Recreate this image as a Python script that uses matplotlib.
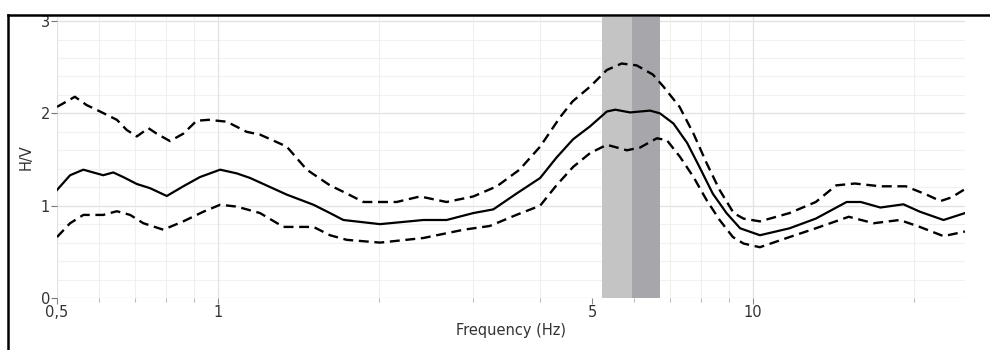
import matplotlib
matplotlib.use("Agg")
import matplotlib.pyplot as plt
from matplotlib.lines import Line2D
from matplotlib.ticker import FixedLocator, NullFormatter

# --- data ---
freq_mean = [0.5, 0.529, 0.560, 0.610, 0.637, 0.665, 0.705, 0.746, 0.802, 0.861, 0.925,
             1.009, 1.084, 1.148, 1.344, 1.508, 1.619, 1.715, 2.008, 2.42, 2.674, 3.0,
             3.27, 3.61, 4.0, 4.29, 4.61, 4.96, 5.33, 5.53, 5.89, 6.42, 6.70, 7.10,
             7.53, 7.94, 8.41, 8.92, 9.46, 10.3, 11.7, 13.1, 14.96, 15.9, 17.3, 19.1,
             20.5, 22.7, 24.9]
hv_mean = [1.17, 1.33, 1.39, 1.33, 1.36, 1.31, 1.235, 1.19, 1.105, 1.21, 1.31,
           1.39, 1.35, 1.30, 1.12, 1.01, 0.92, 0.845, 0.80, 0.845, 0.845, 0.92,
           0.96, 1.13, 1.30, 1.52, 1.72, 1.86, 2.02, 2.04, 2.01, 2.03, 2.00, 1.89,
           1.68, 1.42, 1.13, 0.92, 0.755, 0.68, 0.755, 0.86, 1.04, 1.04, 0.98, 1.015,
           0.935, 0.845, 0.92]

freq_upper = [0.5, 0.540, 0.568, 0.602, 0.647, 0.675, 0.705, 0.741, 0.768, 0.813, 0.861,
              0.912, 0.96, 1.038, 1.131, 1.198, 1.344, 1.465, 1.619, 1.715, 1.87, 2.157,
              2.385, 2.674, 3.0, 3.32, 3.66, 4.0, 4.36, 4.6, 4.96, 5.33, 5.68, 6.06,
              6.5, 6.80, 7.29, 7.74, 8.19, 8.66, 9.2, 9.6, 10.3, 11.7, 13.1, 14.3,
              15.5, 17.3, 19.3, 21.1, 22.4, 23.5, 24.9]
hv_upper = [2.07, 2.18, 2.09, 2.02, 1.93, 1.82, 1.75, 1.84, 1.78, 1.70, 1.78,
            1.92, 1.93, 1.91, 1.80, 1.77, 1.64, 1.39, 1.22, 1.15, 1.04, 1.04,
            1.10, 1.04, 1.10, 1.21, 1.39, 1.64, 1.96, 2.13, 2.29, 2.47, 2.54, 2.52,
            2.42, 2.29, 2.07, 1.78, 1.46, 1.17, 0.92, 0.86, 0.83, 0.92, 1.04, 1.22,
            1.24, 1.21, 1.21, 1.12, 1.05, 1.09, 1.18]

freq_lower = [0.5, 0.529, 0.560, 0.610, 0.647, 0.685, 0.725, 0.790, 0.861, 0.939, 1.009,
              1.084, 1.148, 1.198, 1.325, 1.508, 1.619, 1.74, 2.008, 2.42, 2.88, 3.22,
              3.61, 4.0, 4.29, 4.61, 4.96, 5.33, 5.81, 6.15, 6.61, 6.90, 7.30, 7.74,
              8.19, 8.66, 9.17, 9.6, 10.3, 11.7, 13.1, 15.1, 16.8, 18.8, 20.5, 22.7,
              24.9]
hv_lower = [0.66, 0.81, 0.90, 0.90, 0.94, 0.90, 0.81, 0.74, 0.83, 0.935, 1.01,
            0.99, 0.95, 0.92, 0.77, 0.77, 0.68, 0.63, 0.60, 0.65, 0.74, 0.78,
            0.90, 1.00, 1.22, 1.42, 1.57, 1.66, 1.60, 1.63, 1.73, 1.71, 1.53, 1.31,
            1.06, 0.845, 0.66, 0.59, 0.55, 0.66, 0.755, 0.88, 0.81, 0.845, 0.77, 0.67,
            0.72]

band_light = (5.21, 5.94)
band_dark = (5.94, 6.70)

x_major = [0.5, 1, 5, 10]
x_major_labels = ["0,5", "1", "5", "10"]
x_minor = [0.6, 0.7, 0.8, 0.9, 2, 3, 4, 6, 7, 8, 9, 20]
y_major = [0, 1, 2, 3]
y_major_labels = ["0", "1", "2", "3"]

# --- figure ---
fig = plt.figure(figsize=(9.9, 3.5), dpi=100)
ax = fig.add_axes([57 / 990, 1 - 298 / 350, (965 - 57) / 990, (298 - 17) / 350])
ax.set_xscale("log")
ax.set_xlim(0.5, 24.9)
ax.set_ylim(0, 3.044)

# grid
for y in [0.2 * i for i in range(1, 16)]:
    ax.axhline(y, color="#f1f1f1", lw=0.8, zorder=0)
for y in [1, 2, 3]:
    ax.axhline(y, color="#e2e2e2", lw=0.9, zorder=0)
for x in x_minor:
    ax.axvline(x, color="#efefef", lw=0.8, zorder=0)
for x in [0.5, 1, 10]:
    ax.axvline(x, color="#e2e2e2", lw=0.9, zorder=0)
ax.axhline(0, color="#dddddd", lw=0.9, zorder=0)

# bands
ax.axvspan(*band_light, color="#c4c4c4", lw=0, zorder=1)
ax.axvspan(*band_dark, color="#a7a7ab", lw=0, zorder=1)

# curves
ax.plot(freq_upper, hv_upper, color="black", lw=1.7, ls=(0, (4.2, 2.4)), zorder=3)
ax.plot(freq_mean, hv_mean, color="black", lw=1.6, zorder=3)
ax.plot(freq_lower, hv_lower, color="black", lw=1.7, ls=(0, (4.2, 2.4)), zorder=3)

for s in ax.spines.values():
    s.set_visible(False)

ax.xaxis.set_major_locator(FixedLocator(x_major))
ax.set_xticklabels(x_major_labels)
ax.xaxis.set_minor_locator(FixedLocator(x_minor))
ax.xaxis.set_minor_formatter(NullFormatter())
ax.set_yticks(y_major)
ax.set_yticklabels(y_major_labels)

ax.tick_params(axis="x", which="major", length=4, width=0.8, color="#888888",
               labelsize=10.5, labelcolor="#333333", pad=1)
ax.tick_params(axis="x", which="minor", length=3, width=0.8, color="#bbbbbb")
ax.tick_params(axis="y", which="major", length=4, width=0.8, color="#777777",
               labelsize=10.5, labelcolor="#333333", pad=1)

ax.set_xlabel("Frequency (Hz)", fontsize=10.5, color="#333333", labelpad=2)
ax.set_ylabel("H/V", fontsize=10.5, color="#333333", labelpad=5)

# outer frame (top and left border)
fig.add_artist(Line2D([8 / 990, 1.0], [1 - 15 / 350, 1 - 15 / 350],
                      transform=fig.transFigure, color="black", lw=1.8))
fig.add_artist(Line2D([8 / 990, 8 / 990], [0, 1 - 15 / 350],
                      transform=fig.transFigure, color="black", lw=1.8))

fig.savefig("out.png", dpi=100, facecolor="white")
